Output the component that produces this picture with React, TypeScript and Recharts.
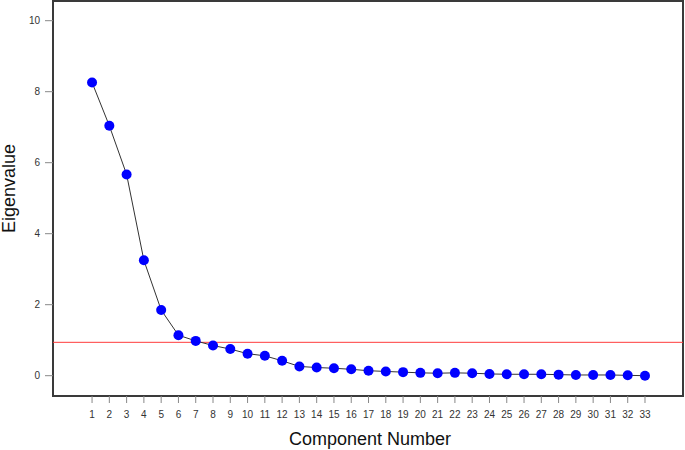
import { Line, LineChart, ReferenceArea, ReferenceLine, XAxis, YAxis } from "recharts"

const components = [
  1, 2, 3, 4, 5, 6, 7, 8, 9, 10, 11, 12, 13, 14, 15, 16, 17,
  18, 19, 20, 21, 22, 23, 24, 25, 26, 27, 28, 29, 30, 31, 32, 33,
]
const eigenvalues = [
  8.26, 7.04, 5.67, 3.25, 1.85, 1.14, 0.98, 0.85, 0.75, 0.62, 0.56,
  0.42, 0.26, 0.23, 0.21, 0.18, 0.14, 0.12, 0.1, 0.08, 0.07, 0.08,
  0.07, 0.05, 0.04, 0.04, 0.04, 0.03, 0.02, 0.02, 0.02, 0.01, 0.0,
]
const yTicks = [0, 2, 4, 6, 8, 10]
const cutoff = 0.94

const xDomain: [number, number] = [-1.26, 35.2]
const yDomain: [number, number] = [-0.572, 10.555]

const FONT = "'Liberation Sans', Arial, sans-serif"

const data = components.map((c, i) => ({ component: c, eigenvalue: eigenvalues[i] }))

export default function App() {
  return (
    <div style={{ width: 685, height: 450, position: "absolute", left: 0, top: 0, background: "#fff" }}>
      <LineChart
        width={685}
        height={450}
        data={data}
        margin={{ top: 1, right: 2, bottom: 0, left: 0 }}
      >
        <XAxis
          dataKey="component"
          type="number"
          domain={xDomain}
          allowDataOverflow
          ticks={components}
          interval={0}
          height={54}
          axisLine={false}
          tickLine={{ stroke: "#888" }}
          tickSize={7}
          tickMargin={8}
          tick={{ fill: "#333", fontSize: 10, fontFamily: FONT }}
          label={{
            content: (props: any) => {
              const vb = props.viewBox
              return (
                <text
                  x={vb.x + vb.width / 2 + 2}
                  y={vb.y + 49}
                  textAnchor="middle"
                  fontSize={18}
                  fontFamily={FONT}
                  fill="#111"
                >
                  Component Number
                </text>
              )
            },
          }}
        />
        <YAxis
          type="number"
          domain={yDomain}
          allowDataOverflow
          ticks={yTicks}
          width={53}
          axisLine={false}
          tickLine={{ stroke: "#888" }}
          tickSize={8}
          tickMargin={5}
          tick={{ fill: "#333", fontSize: 10, fontFamily: FONT }}
          label={{
            content: (props: any) => {
              const vb = props.viewBox
              const cx = vb.x + 8.5
              const cy = vb.y + vb.height / 2 - 10
              return (
                <text
                  x={cx}
                  y={cy}
                  textAnchor="middle"
                  dominantBaseline="central"
                  transform={`rotate(-90, ${cx}, ${cy})`}
                  fontSize={18}
                  fontFamily={FONT}
                  fill="#111"
                >
                  Eigenvalue
                </text>
              )
            },
          }}
        />
        <ReferenceArea
          x1={xDomain[0]}
          x2={xDomain[1]}
          y1={yDomain[0]}
          y2={yDomain[1]}
          fill="none"
          fillOpacity={0}
          stroke="#3a3a3a"
          strokeWidth={2}
        />
        <ReferenceLine y={cutoff} stroke="#ff3b3b" strokeWidth={1} />
        <Line
          dataKey="eigenvalue"
          stroke="#333"
          strokeWidth={1}
          dot={{ r: 5, fill: "#0000ff", stroke: "#0000ff", strokeWidth: 0 }}
          activeDot={false}
          isAnimationActive={false}
        />
      </LineChart>
    </div>
  )
}
